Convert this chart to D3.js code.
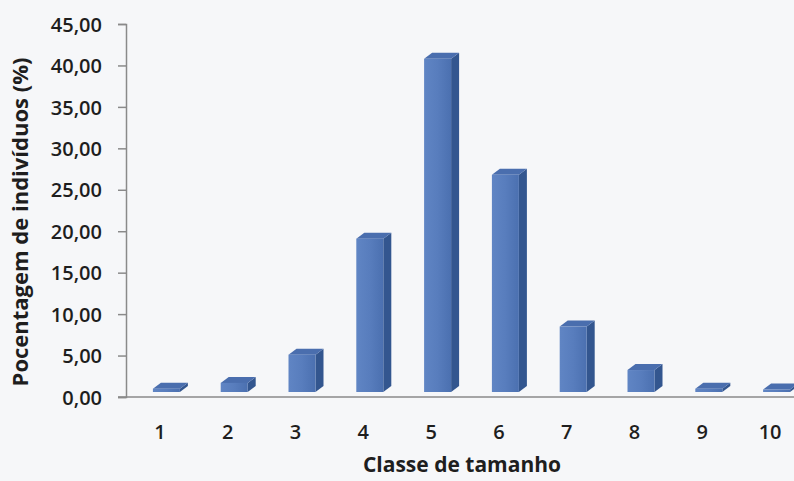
<!DOCTYPE html>
<html>
<head>
<meta charset="utf-8">
<script src="https://cdn.jsdelivr.net/npm/d3@7/dist/d3.min.js"></script>
<style>
  html, body { margin: 0; padding: 0; background: #f6f7f9; }
  svg { display: block; }
  text { font-family: "Open Sans", sans-serif; fill: #1e1e1e; }
</style>
</head>
<body>
<svg id="chart" width="794" height="481"></svg>
<script>
const categories = ["1", "2", "3", "4", "5", "6", "7", "8", "9", "10"];
const values = [0.4, 1.1, 4.5, 18.5, 40.2, 26.2, 7.9, 2.65, 0.4, 0.3];
const yTicks = [0, 5, 10, 15, 20, 25, 30, 35, 40, 45];
const xTitle = "Classe de tamanho";
const yTitle = "Pocentagem de indivíduos (%)";

const W = 794, H = 481;
const svg = d3.select("#chart");

svg.append("rect").attr("width", W).attr("height", H).attr("fill", "#f6f7f9");

const x = d3.scaleBand().domain(categories).range([126, 804]).paddingInner(0).paddingOuter(0);
const y = d3.scaleLinear().domain([0, 45]).range([397, 24]);
// front face of the 3D columns sits slightly above the axis floor
const yFront = d3.scaleLinear().domain([0, 45]).range([392, 19]);

const defs = svg.append("defs");
const g1 = defs.append("linearGradient").attr("id", "frontGrad").attr("x1", "0").attr("x2", "1").attr("y1", "0").attr("y2", "0");
g1.append("stop").attr("offset", "0").attr("stop-color", "#6085c4");
g1.append("stop").attr("offset", "0.5").attr("stop-color", "#587dbd");
g1.append("stop").attr("offset", "1").attr("stop-color", "#4b70b0");

// Y axis
const yAxis = d3.axisLeft(y).tickValues(yTicks).tickSize(8).tickPadding(16)
  .tickFormat(d => d3.format(".2f")(d).replace(".", ","));
const ya = svg.append("g").attr("transform", "translate(126,0)").call(yAxis);
ya.select(".domain").attr("stroke", "#8a8a8a").attr("stroke-width", 1.5);
ya.selectAll(".tick line").attr("stroke", "#8a8a8a").attr("stroke-width", 1.5);
ya.selectAll(".tick text").attr("font-size", 20).attr("font-weight", 600).attr("font-family", "Open Sans").attr("fill", "#222").attr("dy", "0.36em");

// X axis
const xAxis = d3.axisBottom(x).tickSize(0).tickPadding(0);
const xa = svg.append("g").attr("transform", `translate(0,${y(0)})`).call(xAxis);
xa.select(".domain").remove();
xa.selectAll(".tick text").attr("font-size", 20).attr("font-weight", 600).attr("font-family", "Open Sans").attr("fill", "#222").attr("y", 42).attr("dy", 0);
svg.append("line").attr("x1", 118).attr("x2", W).attr("y1", y(0)).attr("y2", y(0))
  .attr("stroke", "#8a8a8a").attr("stroke-width", 1.5);

// 3D bars
const dx = 8, dy = 6, bw = 27;
const data = categories.map((c, i) => ({ c, v: values[i] }));
const bars = svg.append("g").selectAll("g").data(data).join("g");
bars.each(function(d) {
  const g = d3.select(this);
  const cx = x(d.c) + x.bandwidth() / 2;
  const x0 = cx - 7, x1 = x0 + bw;
  const yb = yFront(0), yt = yFront(d.v);
  g.append("polygon")
    .attr("points", [[x1, yt], [x1 + dx, yt - dy], [x1 + dx, yb - dy], [x1, yb]].map(p => p.join(",")).join(" "))
    .attr("fill", "#33568f");
  g.append("polygon")
    .attr("points", [[x0, yt], [x0 + dx, yt - dy], [x1 + dx, yt - dy], [x1, yt]].map(p => p.join(",")).join(" "))
    .attr("fill", "#4a6eae");
  g.append("rect").attr("x", x0).attr("y", yt).attr("width", bw).attr("height", Math.max(0, yb - yt))
    .attr("fill", "url(#frontGrad)");
});

// Titles
svg.append("text").attr("x", 462).attr("y", 472).attr("text-anchor", "middle")
  .attr("font-size", 21).attr("font-weight", "bold").text(xTitle);
svg.append("text").attr("transform", "translate(28,222) rotate(-90)").attr("text-anchor", "middle")
  .attr("font-size", 22).attr("font-weight", "bold").text(yTitle);
</script>
</body>
</html>
